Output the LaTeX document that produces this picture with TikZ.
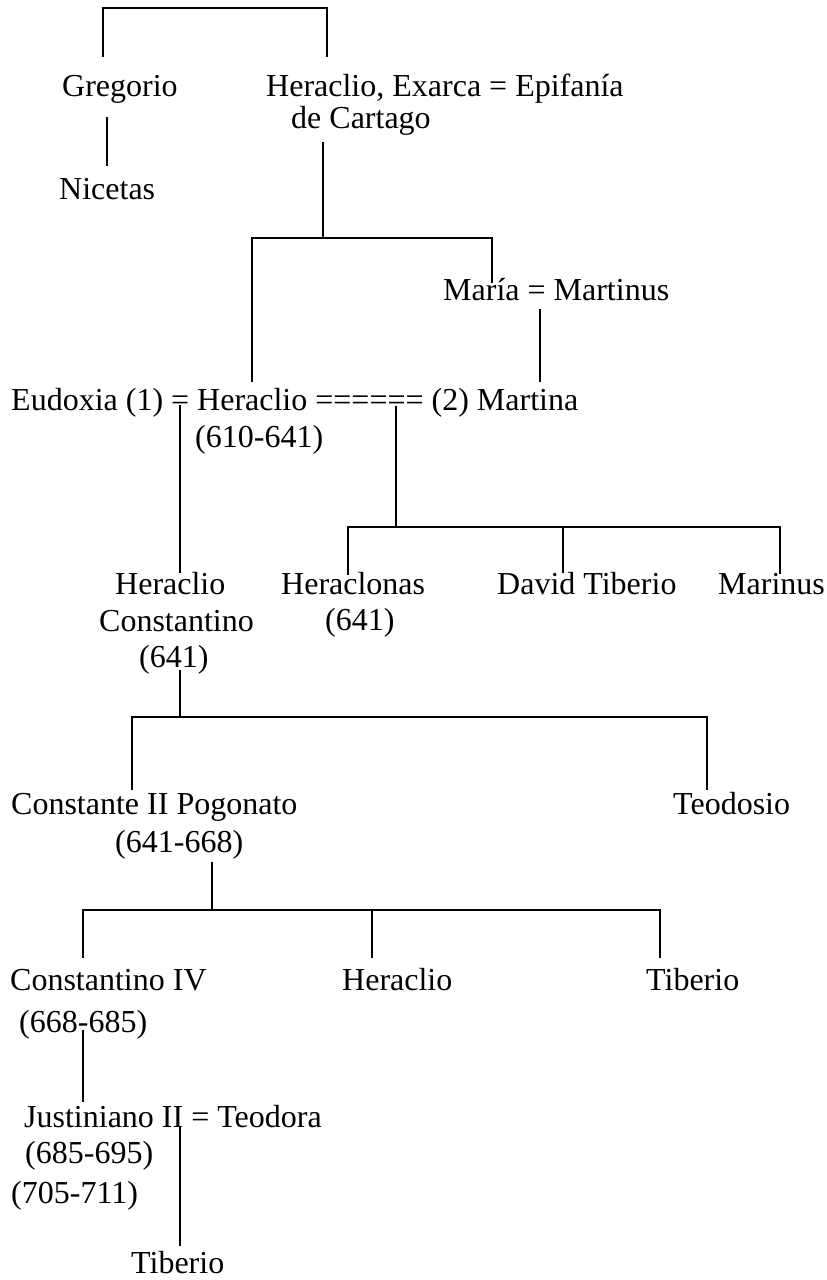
\documentclass[tikz,border=0pt]{standalone}
\usepackage{fontspec}
\setmainfont{Liberation Serif}

\tikzset{
  person/.style={font=\fontsize{32}{36}\selectfont, inner sep=0pt, anchor=base west},
  link/.style={line width=2pt}
}

\begin{document}
\begin{tikzpicture}[x=1pt,y=-1pt]
  \useasboundingbox (0,0) rectangle (827,1280);
  % names
  \node[person] (gregorio)    at (62,96)    {Gregorio};
  \node[person] (exarca)      at (266,96)   {Heraclio, Exarca = Epifanía};
  \node[person] (exarca2)     at (291,128)  {de Cartago};
  \node[person] (nicetas)     at (59,199)   {Nicetas};
  \node[person] (maria)       at (443,300)  {María = Martinus};
  \node[person] (heraclio)    at (11,410)   {Eudoxia (1) = Heraclio ====== (2) Martina};
  \node[person] (heraclio2)   at (195,447)  {(610-641)};
  \node[person] (hconst)      at (115,594)  {Heraclio};
  \node[person] (hconst2)     at (99,631)   {Constantino};
  \node[person] (hconst3)     at (139,667)  {(641)};
  \node[person] (heraclonas)  at (281,594)  {Heraclonas};
  \node[person] (heraclonas2) at (325,630)  {(641)};
  \node[person] (david)       at (497,594)  {David Tiberio};
  \node[person] (marinus)     at (718,594)  {Marinus};
  \node[person] (constante)   at (11,814)   {Constante II Pogonato};
  \node[person] (constante2)  at (115,852)  {(641-668)};
  \node[person] (teodosio)    at (673,814)  {Teodosio};
  \node[person] (constIV)     at (10,990)   {Constantino IV};
  \node[person] (constIV2)    at (19,1032)  {(668-685)};
  \node[person] (heraclio3)   at (342,990)  {Heraclio};
  \node[person] (tiberio)     at (646,990)  {Tiberio};
  \node[person] (justiniano)  at (24,1127)  {Justiniano II = Teodora};
  \node[person] (justiniano2) at (25,1163)  {(685-695)};
  \node[person] (justiniano3) at (11,1203)  {(705-711)};
  \node[person] (tiberio2)    at (131,1273) {Tiberio};
  % line ends
  \coordinate (gregorio-up)     at (103,57);
  \coordinate (exarca-up)       at (327,57);
  \coordinate (gregorio-down)   at (107,117);
  \coordinate (nicetas-up)      at (107,166);
  \coordinate (exarca-down)     at (323,142);
  \coordinate (exarca-bar)      at (323,238);
  \coordinate (heraclio-up)     at (252,382);
  \coordinate (maria-up)        at (492,283);
  \coordinate (maria-down)      at (540,309);
  \coordinate (martina-up)      at (540,382);
  \coordinate (eudoxia-down)    at (180,405);
  \coordinate (hconst-up)       at (180,573);
  \coordinate (martina-down)    at (396,406);
  \coordinate (martina-bar)     at (396,527);
  \coordinate (heraclonas-up)   at (348,575);
  \coordinate (david-up)        at (563,573);
  \coordinate (marinus-up)      at (780,574);
  \coordinate (hconst-down)     at (180,670);
  \coordinate (hconst-bar)      at (180,717);
  \coordinate (constante-up)    at (132,790);
  \coordinate (teodosio-up)     at (707,790);
  \coordinate (constante-down)  at (212,862);
  \coordinate (constante-bar)   at (212,910);
  \coordinate (constIV-up)      at (83,958);
  \coordinate (heraclio3-up)    at (372,958);
  \coordinate (tiberio-up)      at (660,958);
  \coordinate (constIV-down)    at (83,1030);
  \coordinate (justiniano-up)   at (83,1102);
  \coordinate (justiniano-down) at (180,1127);
  \coordinate (tiberio2-up)     at (180,1246);
  % lines
  \draw[link] (gregorio-up) -- ++(0,-49) -| (exarca-up);
  \draw[link] (gregorio-down) -- (nicetas-up);
  \draw[link] (exarca-down) -- (exarca-bar);
  \draw[link] (heraclio-up) |- (exarca-bar) -| (maria-up);
  \draw[link] (maria-down) -- (martina-up);
  \draw[link] (eudoxia-down) -- (hconst-up);
  \draw[link] (martina-down) -- (martina-bar);
  \draw[link] (heraclonas-up) |- (martina-bar) -| (marinus-up);
  \draw[link] (david-up) -- (david-up |- martina-bar);
  \draw[link] (hconst-down) -- (hconst-bar);
  \draw[link] (constante-up) |- (hconst-bar) -| (teodosio-up);
  \draw[link] (constante-down) -- (constante-bar);
  \draw[link] (constIV-up) |- (constante-bar) -| (tiberio-up);
  \draw[link] (heraclio3-up) -- (heraclio3-up |- constante-bar);
  \draw[link] (constIV-down) -- (justiniano-up);
  \draw[link] (justiniano-down) -- (tiberio2-up);
\end{tikzpicture}
\end{document}
